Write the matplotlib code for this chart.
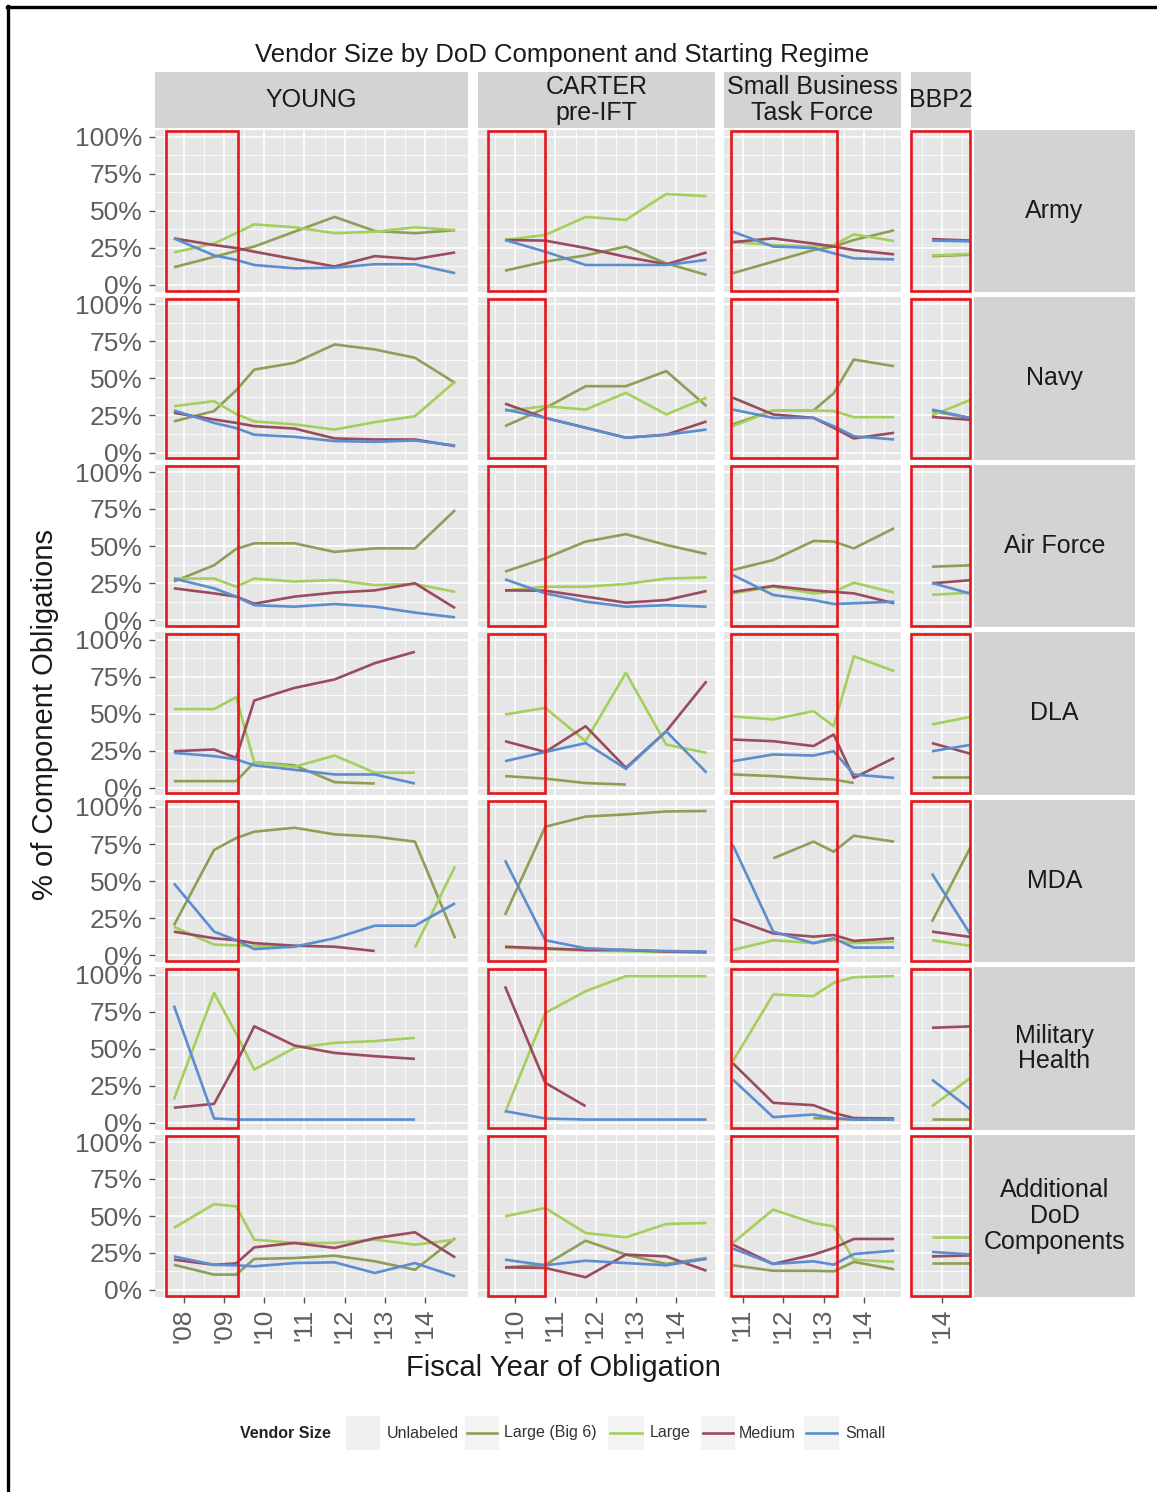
import numpy as np
import matplotlib
matplotlib.use("Agg")
import matplotlib.pyplot as plt
from matplotlib.patches import Rectangle
from matplotlib.lines import Line2D

plt.rcParams['font.family'] = ['Liberation Sans', 'DejaVu Sans']
nan = np.nan

# ---------------- data ----------------
COMPONENTS = ["Army", "Navy", "Air Force", "DLA", "MDA", "Military\nHealth",
              "Additional\nDoD\nComponents"]
REGIMES = ["YOUNG", "CARTER\npre-IFT", "Small Business\nTask Force", "BBP2"]
SERIES = ["Large (Big 6)", "Large", "Medium", "Small"]
COLORS = ["#8E9F55", "#A5CF5C", "#9A4B5E", "#5B8DCF"]

# x positions (fiscal-year dates) per regime
FY_YOUNG = [2007.75, 2008.75, 2009.3, 2009.75, 2010.75, 2011.75, 2012.75, 2013.75, 2014.75]
FY_CARTER = [2009.75, 2010.75, 2011.75, 2012.75, 2013.75, 2014.75]
FY_SBTF = [2010.75, 2011.75, 2012.75, 2013.25, 2013.75, 2014.75]
FY_BBP2 = [2013.75, 2014.75]

# YOUNG regime (rows = components)
young_big6 = [
    [0.12, 0.19, 0.23, 0.26, 0.36, 0.46, 0.365, 0.35, 0.37],
    [0.21, 0.28, 0.42, 0.56, 0.606, 0.73, 0.696, 0.64, 0.47],
    [0.26, 0.37, 0.48, 0.518, 0.518, 0.46, 0.484, 0.484, 0.743],
    [0.043, 0.043, 0.043, 0.17, 0.15, 0.036, 0.027, nan, nan],
    [0.2, 0.71, 0.79, 0.833, 0.86, 0.815, 0.8, 0.766, 0.113],
    [nan] * 9,
    [0.17, 0.104, 0.104, 0.21, 0.216, 0.232, 0.194, 0.137, 0.35],
]
young_large = [
    [0.22, 0.28, 0.35, 0.41, 0.39, 0.35, 0.36, 0.39, 0.37],
    [0.313, 0.347, 0.26, 0.21, 0.19, 0.155, 0.205, 0.245, 0.48],
    [0.28, 0.28, 0.225, 0.28, 0.26, 0.27, 0.236, 0.243, 0.19],
    [0.53, 0.53, 0.61, 0.17, 0.14, 0.216, 0.1, 0.1, nan],
    [0.19, 0.07, 0.065, 0.06, 0.055, nan, nan, 0.05, 0.6],
    [0.155, 0.876, 0.6, 0.358, 0.504, 0.538, 0.55, 0.572, nan],
    [0.42, 0.58, 0.565, 0.34, 0.318, 0.318, 0.34, 0.306, 0.34],
]
young_medium = [
    [0.315, 0.27, 0.25, 0.225, 0.175, 0.125, 0.195, 0.175, 0.22],
    [0.268, 0.223, 0.2, 0.178, 0.162, 0.095, 0.088, 0.088, 0.043],
    [0.214, 0.18, 0.158, 0.11, 0.158, 0.185, 0.2, 0.248, 0.08],
    [0.245, 0.257, 0.2, 0.588, 0.673, 0.73, 0.84, 0.917, nan],
    [0.158, 0.113, 0.1, 0.08, 0.063, 0.056, 0.027, nan, nan],
    [0.1, 0.126, 0.4, 0.65, 0.52, 0.47, 0.448, 0.43, nan],
    [0.205, 0.17, 0.18, 0.288, 0.318, 0.284, 0.35, 0.39, 0.22],
]
young_small = [
    [0.315, 0.2, 0.17, 0.135, 0.113, 0.117, 0.14, 0.14, 0.08],
    [0.284, 0.2, 0.165, 0.12, 0.106, 0.077, 0.072, 0.081, 0.047],
    [0.28, 0.214, 0.158, 0.10, 0.09, 0.108, 0.09, 0.05, 0.018],
    [0.234, 0.212, 0.19, 0.15, 0.12, 0.088, 0.088, 0.027, nan],
    [0.484, 0.158, 0.1, 0.04, 0.056, 0.113, 0.198, 0.198, 0.35],
    [0.79, 0.027, 0.02, 0.02, 0.02, 0.02, 0.02, 0.02, nan],
    [0.227, 0.17, 0.167, 0.16, 0.182, 0.187, 0.115, 0.182, 0.092],
]

# CARTER pre-IFT regime
carter_big6 = [
    [0.097, 0.158, 0.2, 0.26, 0.146, 0.068],
    [0.178, 0.3, 0.448, 0.448, 0.55, 0.313],
    [0.327, 0.417, 0.53, 0.58, 0.507, 0.446],
    [0.077, 0.06, 0.03, 0.02, nan, nan],
    [0.27, 0.867, 0.935, 0.95, 0.97, 0.973],
    [nan] * 6,
    [0.153, 0.17, 0.333, 0.239, 0.176, 0.216],
]
carter_large = [
    [0.304, 0.338, 0.46, 0.44, 0.615, 0.6],
    [0.28, 0.313, 0.29, 0.403, 0.257, 0.37],
    [0.2, 0.225, 0.225, 0.243, 0.28, 0.288],
    [0.493, 0.538, 0.313, 0.775, 0.29, 0.234],
    [0.05, 0.04, 0.03, 0.025, 0.02, 0.02],
    [0.065, 0.74, 0.887, 0.989, 0.989, 0.989],
    [0.498, 0.554, 0.385, 0.356, 0.446, 0.453],
]
carter_medium = [
    [0.304, 0.3, 0.25, 0.19, 0.14, 0.22],
    [0.33, 0.234, 0.167, 0.1, 0.12, 0.21],
    [0.2, 0.198, 0.158, 0.117, 0.135, 0.196],
    [0.313, 0.24, 0.414, 0.133, 0.38, 0.718],
    [0.056, 0.045, 0.034, 0.034, 0.023, 0.018],
    [0.92, 0.268, 0.11, nan, nan, nan],
    [0.153, 0.149, 0.086, 0.239, 0.227, 0.13],
]
carter_small = [
    [0.304, 0.225, 0.135, 0.135, 0.135, 0.17],
    [0.29, 0.234, 0.167, 0.1, 0.12, 0.155],
    [0.275, 0.18, 0.124, 0.09, 0.1, 0.09],
    [0.178, 0.24, 0.3, 0.126, 0.38, 0.1],
    [0.64, 0.1, 0.045, 0.034, 0.027, 0.023],
    [0.077, 0.027, 0.02, 0.02, 0.02, 0.02],
    [0.205, 0.167, 0.198, 0.182, 0.167, 0.21],
]

# Small Business Task Force regime
sbtf_big6 = [
    [0.08, 0.158, 0.236, 0.26, 0.304, 0.37],
    [0.19, 0.284, 0.284, 0.4, 0.628, 0.583],
    [0.338, 0.405, 0.534, 0.53, 0.484, 0.62],
    [0.088, 0.077, 0.059, 0.054, 0.03, nan],
    [nan, 0.653, 0.766, 0.698, 0.806, 0.766],
    [nan, nan, 0.03, 0.025, 0.02, 0.02],
    [0.167, 0.13, 0.13, 0.126, 0.19, 0.14],
]
sbtf_large = [
    [0.29, 0.27, 0.26, 0.27, 0.342, 0.297],
    [0.178, 0.284, 0.284, 0.28, 0.239, 0.239],
    [0.18, 0.225, 0.18, 0.19, 0.252, 0.185],
    [0.48, 0.46, 0.516, 0.414, 0.887, 0.786],
    [0.034, 0.1, 0.08, 0.1, 0.08, 0.09],
    [0.414, 0.865, 0.854, 0.944, 0.982, 0.989],
    [0.318, 0.543, 0.453, 0.43, 0.205, 0.19],
]
sbtf_medium = [
    [0.29, 0.315, 0.28, 0.26, 0.236, 0.207],
    [0.37, 0.257, 0.234, 0.167, 0.095, 0.133],
    [0.19, 0.23, 0.2, 0.19, 0.18, 0.113],
    [0.324, 0.313, 0.28, 0.358, 0.065, 0.2],
    [0.243, 0.146, 0.124, 0.135, 0.095, 0.113],
    [0.4, 0.133, 0.117, 0.065, 0.03, 0.027],
    [0.306, 0.176, 0.239, 0.284, 0.345, 0.345],
]
sbtf_small = [
    [0.36, 0.26, 0.25, 0.214, 0.18, 0.173],
    [0.29, 0.234, 0.234, 0.178, 0.11, 0.088],
    [0.304, 0.169, 0.135, 0.108, 0.113, 0.124],
    [0.178, 0.223, 0.216, 0.245, 0.088, 0.065],
    [0.743, 0.158, 0.08, 0.113, 0.05, 0.05],
    [0.29, 0.036, 0.054, 0.03, 0.02, 0.02],
    [0.28, 0.176, 0.194, 0.171, 0.243, 0.266],
]

# BBP2 regime
bbp2_big6 = [[0.195, 0.205], [0.28, 0.23], [0.36, 0.37], [0.072, 0.072],
             [0.225, 0.75], [0.027, 0.027], [0.182, 0.182]]
bbp2_large = [[0.2, 0.21], [0.25, 0.36], [0.17, 0.185], [0.426, 0.48],
              [0.1, 0.06], [0.11, 0.31], [0.356, 0.356]]
bbp2_medium = [[0.31, 0.30], [0.24, 0.22], [0.248, 0.27], [0.3, 0.225],
               [0.158, 0.12], [0.64, 0.65], [0.227, 0.234]]
bbp2_small = [[0.30, 0.295], [0.29, 0.23], [0.25, 0.175], [0.245, 0.29],
              [0.55, 0.12], [0.29, 0.08], [0.257, 0.24]]

# regime highlight windows (start, end)
HIGHLIGHT = [(2007.55, 2009.34), (2009.33, 2010.74), (2010.70, 2013.33), (2013.24, 2014.69)]
YEAR_TICKS = [[2008, 2009, 2010, 2011, 2012, 2013, 2014], [2010, 2011, 2012, 2013, 2014],
              [2011, 2012, 2013, 2014], [2014]]

# ---------------- layout ----------------
W, H = 1157, 1492
fig = plt.figure(figsize=(W / 100, H / 100), dpi=100)
fig.patch.set_facecolor("white")


def ax_px(x0, y0, x1, y1):
    return fig.add_axes([x0 / W, 1 - y1 / H, (x1 - x0) / W, (y1 - y0) / H])


COLS = [(155, 468, 2007.28, 2015.07), (478, 715, 2009.08, 2014.96),
        (724, 901, 2010.53, 2014.92), (911, 971, 2013.23, 2014.72)]
ROW_TOP0, ROW_STEP, ROW_H = 129.6, 167.5, 162.8
STRIP_X0, STRIP_X1 = 974, 1135
STRIP_Y0, STRIP_Y1 = 72, 128

XS = [FY_YOUNG, FY_CARTER, FY_SBTF, FY_BBP2]
DATA = [
    [young_big6, young_large, young_medium, young_small],
    [carter_big6, carter_large, carter_medium, carter_small],
    [sbtf_big6, sbtf_large, sbtf_medium, sbtf_small],
    [bbp2_big6, bbp2_large, bbp2_medium, bbp2_small],
]

PANEL_BG = "#E6E6E6"
STRIP_BG = "#D3D3D3"
TICK_COL = "#5E5E5E"

for r, comp in enumerate(COMPONENTS):
    y0 = ROW_TOP0 + r * ROW_STEP
    y1 = y0 + ROW_H
    for c, (x0, x1, lo, hi) in enumerate(COLS):
        ax = ax_px(x0, y0, x1, y1)
        ax.set_facecolor(PANEL_BG)
        for s in ax.spines.values():
            s.set_visible(False)
        ax.set_xlim(lo, hi)
        ax.set_ylim(-0.05, 1.05)
        ax.set_yticks([0, 0.25, 0.5, 0.75, 1.0])
        ax.set_yticks([0.125, 0.375, 0.625, 0.875], minor=True)
        ax.set_xticks(YEAR_TICKS[c])
        ax.set_xticks([y + 0.5 for y in range(2007, 2015) if lo < y + 0.5 < hi], minor=True)
        ax.grid(which="major", color="white", lw=1.2)
        ax.grid(which="minor", color="white", lw=0.55)
        ax.set_axisbelow(True)
        ax.tick_params(which="minor", length=0)
        if c == 0:
            ax.set_yticklabels(["0%", "25%", "50%", "75%", "100%"], fontsize=19, color=TICK_COL)
            ax.tick_params(axis="y", which="major", length=4, width=1, color="#555555", pad=5)
        else:
            ax.tick_params(axis="y", which="major", length=0, labelleft=False)
        if r == len(COMPONENTS) - 1:
            ax.set_xticklabels(["'%02d" % (y % 100) for y in YEAR_TICKS[c]],
                               fontsize=19, color=TICK_COL, rotation=90)
            ax.tick_params(axis="x", which="major", length=4, width=1, color="#555555", pad=4)
        else:
            ax.tick_params(axis="x", which="major", length=0, labelbottom=False)

        xs = XS[c]
        for k in range(4):
            ax.plot(xs, DATA[c][k][r], color=COLORS[k], lw=1.9, solid_capstyle="butt", zorder=3)

        bx0, bx1 = HIGHLIGHT[c]
        ax.add_patch(Rectangle((bx0, -0.04), bx1 - bx0, 1.08, fill=False,
                               ec="#E3161C", lw=1.9, zorder=6, clip_on=False))

    # right strip
    sax = ax_px(STRIP_X0, y0, STRIP_X1, y1)
    sax.set_facecolor(STRIP_BG)
    sax.set_xticks([]); sax.set_yticks([])
    for s in sax.spines.values():
        s.set_visible(False)
    sax.text(0.5, 0.5, comp, ha="center", va="center", fontsize=18,
             color="#1A1A1A", linespacing=1.1, transform=sax.transAxes)

# top strips
for c, (x0, x1, lo, hi) in enumerate(COLS):
    tax = ax_px(x0, STRIP_Y0, x1, STRIP_Y1)
    tax.set_facecolor(STRIP_BG)
    tax.set_xticks([]); tax.set_yticks([])
    for s in tax.spines.values():
        s.set_visible(False)
    tax.text(0.5, 0.5, REGIMES[c], ha="center", va="center", fontsize=18,
             color="#1A1A1A", linespacing=1.1, transform=tax.transAxes, clip_on=False)

# title and axis labels
fig.text(562 / W, 1 - 55 / H, "Vendor Size by DoD Component and Starting Regime",
         ha="center", va="center", fontsize=18.5, color="#1A1A1A")
fig.text(563 / W, 1 - 1368 / H, "Fiscal Year of Obligation", ha="center", va="center",
         fontsize=21, color="#1A1A1A")
fig.text(45 / W, 1 - 714 / H, "% of Component Obligations", ha="center", va="center",
         fontsize=21, rotation=90, color="#1A1A1A")

# legend
LY = 1 - 1433 / H
fig.text(240 / W, LY, "Vendor Size", ha="left", va="center", fontsize=11.5,
         fontweight="bold", color="#222222")
fig.patches.append(Rectangle((346 / W, 1 - 1450 / H), 34 / W, 34 / H,
                             transform=fig.transFigure, fc="#EFEFEF", ec="none"))
fig.text(387 / W, LY, "Unlabeled", ha="left", va="center", fontsize=11.5, color="#333333")
legend_items = [(467, 497, 504), (610, 642, 650), (703, 733, 739), (806, 837, 845)]
for k, (lx0, lx1, tx) in enumerate(legend_items):
    fig.patches.append(Rectangle(((lx0 - 2) / W, 1 - 1450 / H), (lx1 - lx0 + 4) / W, 34 / H,
                                 transform=fig.transFigure, fc="#F3F3F3", ec="none"))
    fig.add_artist(Line2D([lx0 / W, lx1 / W], [LY, LY], color=COLORS[k], lw=1.9,
                          transform=fig.transFigure))
    fig.text(tx / W, LY, SERIES[k], ha="left", va="center", fontsize=11.5, color="#333333")

# outer frame (left and top edges)
fig.add_artist(Line2D([8 / W, 8 / W], [0, 1 - 6 / H], color="black", lw=2.4,
                      transform=fig.transFigure))
fig.add_artist(Line2D([7 / W, 1], [1 - 7 / H, 1 - 7 / H], color="black", lw=2.4,
                      transform=fig.transFigure))

fig.savefig("out.png", dpi=100, facecolor="white")
